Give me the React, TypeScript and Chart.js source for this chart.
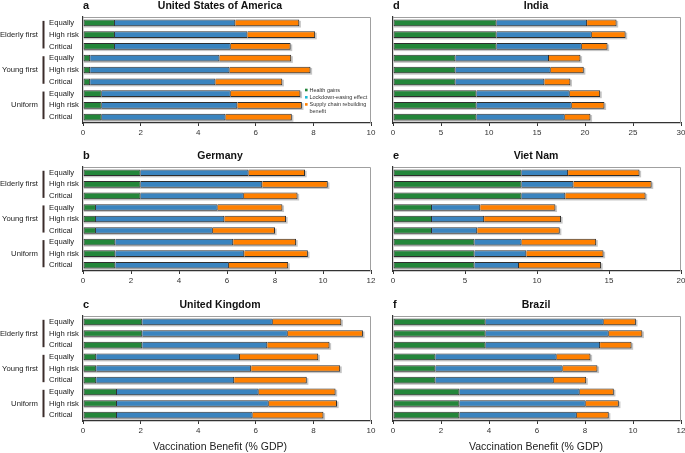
import React, { useEffect, useRef } from "react";
import { Chart, registerables } from "chart.js";

Chart.register(...registerables);

// ---------- data ----------
const subLabels = ["Equally", "High risk", "Critical", "Equally", "High risk", "Critical", "Equally", "High risk", "Critical"];
const groupLabels = ["Elderly first", "Young first", "Uniform"];
const seriesNames = ["Health gains", "Lockdown-easing effect", "Supply chain rebuilding benefit"];
const axisTitle = "Vaccination Benefit (% GDP)";

const usaHealth = [1.11, 1.11, 1.11, 0.25, 0.25, 0.25, 0.65, 0.65, 0.65];
const usaLockdown = [4.18, 4.6, 4.02, 4.49, 4.84, 4.35, 4.48, 4.71, 4.3];
const usaSupply = [2.22, 2.35, 2.08, 2.49, 2.81, 2.32, 2.42, 2.24, 2.3];

const deuHealth = [2.4, 2.4, 2.4, 0.54, 0.54, 0.54, 1.35, 1.35, 1.35];
const deuLockdown = [4.5, 5.07, 4.3, 5.07, 5.35, 4.87, 4.91, 5.37, 4.73];
const deuSupply = [2.35, 2.73, 2.24, 2.7, 2.57, 2.59, 2.62, 2.65, 2.47];

const gbrHealth = [2.06, 2.06, 2.06, 0.46, 0.46, 0.46, 1.18, 1.18, 1.18];
const gbrLockdown = [4.53, 5.05, 4.34, 4.99, 5.38, 4.79, 4.92, 5.27, 4.71];
const gbrSupply = [2.38, 2.61, 2.16, 2.72, 3.09, 2.52, 2.67, 2.37, 2.46];

const indHealth = [10.79, 10.79, 10.79, 6.51, 6.51, 6.51, 8.7, 8.7, 8.7];
const indLockdown = [9.43, 9.92, 8.88, 9.74, 9.92, 9.26, 9.71, 9.92, 9.19];
const indSupply = [3.07, 3.52, 2.68, 3.28, 3.44, 2.71, 3.17, 3.41, 2.68];

const vnmHealth = [8.93, 8.93, 8.93, 2.71, 2.71, 2.71, 5.66, 5.66, 5.66];
const vnmLockdown = [3.23, 3.6, 3.04, 3.35, 3.62, 3.14, 3.27, 3.6, 3.09];
const vnmSupply = [4.96, 5.43, 5.57, 5.22, 5.34, 5.73, 5.18, 5.36, 5.7];

const braHealth = [3.86, 3.86, 3.86, 1.77, 1.77, 1.77, 2.77, 2.77, 2.77];
const braLockdown = [4.92, 5.13, 4.77, 5.05, 5.3, 4.93, 5.01, 5.26, 4.89];
const braSupply = [1.34, 1.4, 1.31, 1.41, 1.45, 1.35, 1.42, 1.38, 1.33];

// ---------- styles ----------
const FONT = "'Liberation Sans', Arial, Helvetica, sans-serif";
const colors = ["#23863a", "#3a84bf", "#ff8000"];
const legendColors = ["#23863a", "#1fb9d6", "#ff8000"];
const edge = "#2e2e2e";

const cols = [
  { x: 0, w: 380, padL: 49, yW: 34, padR: 9, titleDx: -7 },
  { x: 380, w: 305, padL: 13, yW: 0, padR: 4, titleDx: -1 },
];
const rows = [
  { y: 0, h: 145, padT: 17, xH: 22 },
  { y: 145, h: 145, padT: 22, xH: 19 },
  { y: 290, h: 163, padT: 26, xH: 32 },
];

type Panel = {
  letter: string; title: string; health: number[]; lockdown: number[]; supply: number[];
  max: number; step: number; col: number; row: number;
};

const panels: Panel[] = [
  { letter: "a", title: "United States of America", health: usaHealth, lockdown: usaLockdown, supply: usaSupply, max: 10, step: 2, col: 0, row: 0 },
  { letter: "b", title: "Germany", health: deuHealth, lockdown: deuLockdown, supply: deuSupply, max: 12, step: 2, col: 0, row: 1 },
  { letter: "c", title: "United Kingdom", health: gbrHealth, lockdown: gbrLockdown, supply: gbrSupply, max: 10, step: 2, col: 0, row: 2 },
  { letter: "d", title: "India", health: indHealth, lockdown: indLockdown, supply: indSupply, max: 30, step: 5, col: 1, row: 0 },
  { letter: "e", title: "Viet Nam", health: vnmHealth, lockdown: vnmLockdown, supply: vnmSupply, max: 20, step: 5, col: 1, row: 1 },
  { letter: "f", title: "Brazil", health: braHealth, lockdown: braLockdown, supply: braSupply, max: 12, step: 2, col: 1, row: 2 },
];

function makePlugin(p: Panel) {
  const col = cols[p.col];
  return {
    id: "decor_" + p.letter,
    beforeDatasetsDraw(chart: any) {
      const ctx = chart.ctx;
      const xs = chart.scales.x;
      const meta = chart.getDatasetMeta(0);
      ctx.save();
      ctx.fillStyle = "#c6c6c6";
      meta.data.forEach((el: any, i: number) => {
        const total = p.health[i] + p.lockdown[i] + p.supply[i];
        const x0 = xs.getPixelForValue(0);
        const x1 = xs.getPixelForValue(total);
        const { y, height } = el.getProps(["y", "height"], true);
        ctx.fillRect(x0 + 1, y - height / 2 + 1.3, x1 - x0 + 0.6, height);
      });
      ctx.restore();
    },
    afterDraw(chart: any) {
      const ctx = chart.ctx;
      const a = chart.chartArea;
      const ys = chart.scales.y;
      ctx.save();
      // top/right frame
      ctx.strokeStyle = "#a0a0a0";
      ctx.lineWidth = 1;
      ctx.beginPath();
      ctx.moveTo(a.left, a.top + 0.5);
      ctx.lineTo(a.right - 0.5, a.top + 0.5);
      ctx.lineTo(a.right - 0.5, a.bottom);
      ctx.stroke();
      // letter
      ctx.fillStyle = "#111";
      ctx.textBaseline = "middle";
      ctx.textAlign = "left";
      ctx.font = `bold 11px ${FONT}`;
      ctx.fillText(p.letter, a.left, a.top - 11);
      // title
      ctx.textAlign = "center";
      ctx.font = `bold 10.5px ${FONT}`;
      ctx.fillText(p.title, (a.left + a.right) / 2 + col.titleDx, a.top - 11);
      // groups
      if (p.col === 0) {
        for (let g = 0; g < 3; g++) {
          const yt = ys.getPixelForValue(g * 3) - 2;
          const yb = ys.getPixelForValue(g * 3 + 2) + 2;
          ctx.fillStyle = "#3b2c2a";
          ctx.fillRect(42.5, yt, 2, yb - yt);
          ctx.fillStyle = "#222";
          ctx.textAlign = "right";
          ctx.font = `7.7px ${FONT}`;
          ctx.fillText(groupLabels[g], 38, ys.getPixelForValue(g * 3 + 1));
        }
      }
      // legend
      if (p.letter === "a") {
        const lines = [
          { t: seriesNames[0], c: legendColors[0], y: 90 },
          { t: seriesNames[1], c: legendColors[1], y: 97.3 },
          { t: "Supply chain rebuilding", c: legendColors[2], y: 104.4 },
          { t: "benefit", c: null, y: 111.5 },
        ];
        ctx.font = `5.5px ${FONT}`;
        ctx.textAlign = "left";
        lines.forEach((l) => {
          if (l.c) {
            ctx.fillStyle = l.c;
            ctx.fillRect(305, l.y - 1.3, 2.6, 2.6);
          }
          ctx.fillStyle = "#333";
          ctx.fillText(l.t, 309.5, l.y);
        });
      }
      // x title
      if (p.row === 2) {
        ctx.fillStyle = "#222";
        ctx.textAlign = "center";
        ctx.font = `10.5px ${FONT}`;
        ctx.fillText(axisTitle, (a.left + a.right) / 2 + col.titleDx, 157);
      }
      ctx.restore();
    },
  };
}

function PanelChart({ p }: { p: Panel }) {
  const ref = useRef<HTMLCanvasElement>(null);
  const col = cols[p.col];
  const row = rows[p.row];
  useEffect(() => {
    const series = [p.health, p.lockdown, p.supply];
    const chart = new Chart(ref.current as HTMLCanvasElement, {
      type: "bar",
      data: {
        labels: subLabels,
        datasets: series.map((d, i) => ({
          label: seriesNames[i],
          data: d,
          backgroundColor: colors[i],
          borderColor: edge,
          borderWidth: { left: i === 0 ? 1 : 0, right: 1, top: 1, bottom: 1 },
          borderSkipped: false,
          barPercentage: 0.57,
          categoryPercentage: 1,
        })),
      },
      options: {
        indexAxis: "y",
        responsive: false,
        maintainAspectRatio: false,
        animation: false,
        devicePixelRatio: 1,
        layout: { padding: { left: col.padL, right: col.padR, top: row.padT, bottom: 0 } },
        plugins: { legend: { display: false }, tooltip: { enabled: false }, title: { display: false } },
        scales: {
          x: {
            stacked: true,
            min: 0,
            max: p.max,
            ticks: { stepSize: p.step, color: "#333", font: { family: FONT, size: 8 }, padding: 2, maxRotation: 0 },
            grid: { display: true, drawOnChartArea: false, drawTicks: true, tickLength: 3, color: "#333" },
            border: { display: true, color: "#333", width: 1.2 },
            afterFit: (s: any) => {
              s.height = row.xH;
              s.paddingLeft = 0;
              s.paddingRight = 0;
            },
          },
          y: {
            stacked: true,
            ticks: {
              display: p.col === 0,
              crossAlign: "far",
              color: "#222",
              font: { family: FONT, size: 7.7 },
              autoSkip: false,
            },
            grid: { display: false },
            border: { display: true, color: "#333", width: 1.2 },
            afterFit: (s: any) => {
              s.width = col.yW;
              s.paddingTop = 0;
              s.paddingBottom = 0;
            },
          },
        },
      } as any,
      plugins: [makePlugin(p)],
    });
    return () => chart.destroy();
  }, []);
  return (
    <canvas
      ref={ref}
      width={col.w}
      height={row.h}
      style={{ position: "absolute", left: col.x, top: row.y, width: col.w, height: row.h }}
    />
  );
}

export default function App() {
  return (
    <div style={{ position: "absolute", left: 0, top: 0, width: 685, height: 453, background: "#fff", overflow: "hidden" }}>
      {panels.map((p) => (
        <PanelChart key={p.letter} p={p} />
      ))}
    </div>
  );
}
